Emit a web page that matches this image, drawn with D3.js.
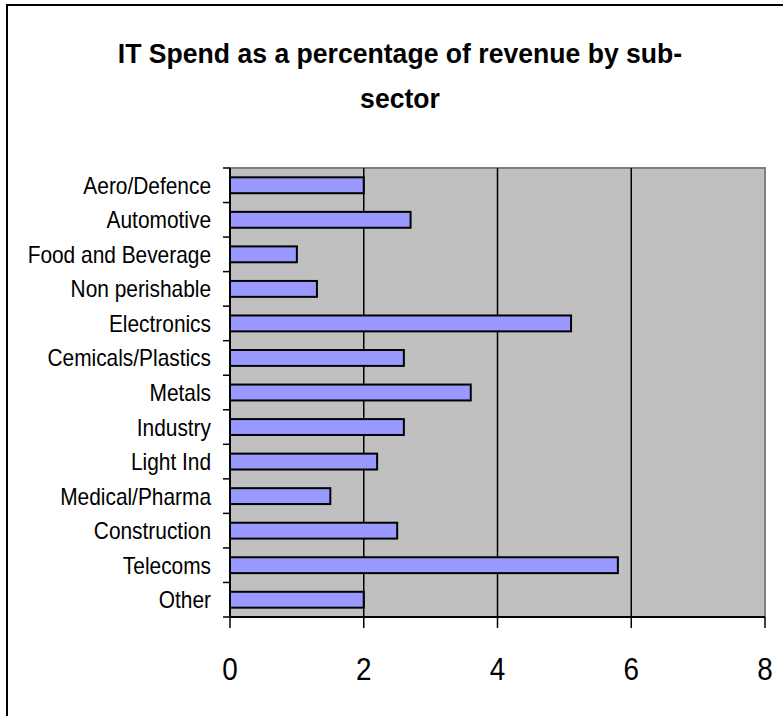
<!DOCTYPE html>
<html>
<head>
<meta charset="utf-8">
<script src="https://cdn.jsdelivr.net/npm/d3@7"></script>
<style>
  body { margin: 0; background: #fff; }
  text { font-family: "Liberation Sans", Arial, sans-serif; fill: #000; }
</style>
</head>
<body>
<svg width="783" height="716"></svg>
<script>
// chart data
var categories = ["Aero/Defence", "Automotive", "Food and Beverage", "Non perishable",
  "Electronics", "Cemicals/Plastics", "Metals", "Industry", "Light Ind",
  "Medical/Pharma", "Construction", "Telecoms", "Other"];
var values = [2.0, 2.7, 1.0, 1.3, 5.1, 2.6, 3.6, 2.6, 2.2, 1.5, 2.5, 5.8, 2.0];
var xTicks = [0, 2, 4, 6, 8];
var titleLines = ["IT Spend as a percentage of revenue by sub-", "sector"];

var svg = d3.select("svg"),
    plot = {left: 230, right: 765, top: 168, bottom: 617};

var x = d3.scaleLinear().domain([0, 8]).range([plot.left, plot.right]);
var y = d3.scaleBand().domain(categories).range([plot.top, plot.bottom])
    .paddingInner(0.54).paddingOuter(0.27);

var data = categories.map(function(c, i) { return {name: c, val: values[i]}; });

// outer chart border (runs off the right and bottom edges)
svg.append("rect")
    .attr("x", 7).attr("y", 5)
    .attr("width", 820).attr("height", 760)
    .attr("fill", "none").attr("stroke", "#000").attr("stroke-width", 2);

// title
svg.selectAll(".title")
  .data(titleLines)
  .enter().append("text")
    .attr("class", "title")
    .attr("transform", function(d, i) { return "translate(400," + (63 + i * 45) + ") scale(0.95,1)"; })
    .attr("text-anchor", "middle")
    .style("font-size", "28px")
    .style("font-weight", "bold")
    .text(function(d) { return d; });

// plot area
svg.append("rect")
    .attr("x", plot.left).attr("y", plot.top)
    .attr("width", plot.right - plot.left).attr("height", plot.bottom - plot.top)
    .attr("fill", "#c0c0c0").attr("stroke", "#808080").attr("stroke-width", 2);

// gridlines + x ticks
svg.append("g")
    .selectAll("line")
    .data(xTicks)
    .enter().append("line")
      .attr("x1", function(d) { return x(d); })
      .attr("x2", function(d) { return x(d); })
      .attr("y1", function(d) { return (d === 0 || d === 8) ? plot.bottom : plot.top; })
      .attr("y2", plot.bottom + 11)
      .attr("stroke", "#000").attr("stroke-width", 1.5);

// bars
svg.append("g")
    .selectAll("rect")
    .data(data)
    .enter().append("rect")
      .attr("x", x(0))
      .attr("y", function(d) { return y(d.name); })
      .attr("width", function(d) { return x(d.val) - x(0); })
      .attr("height", y.bandwidth())
      .attr("fill", "#9999ff")
      .attr("stroke", "#000").attr("stroke-width", 2);

// axes lines
svg.append("line")
    .attr("x1", plot.left).attr("x2", plot.left)
    .attr("y1", plot.top).attr("y2", plot.bottom + 1)
    .attr("stroke", "#000").attr("stroke-width", 2);
svg.append("line")
    .attr("x1", plot.left - 1).attr("x2", plot.right)
    .attr("y1", plot.bottom).attr("y2", plot.bottom)
    .attr("stroke", "#000").attr("stroke-width", 2);

// y ticks on band boundaries
svg.append("g")
    .selectAll("line")
    .data(d3.range(categories.length + 1))
    .enter().append("line")
      .attr("x1", plot.left - 7).attr("x2", plot.left)
      .attr("y1", function(i) { return plot.top + i * y.step(); })
      .attr("y2", function(i) { return plot.top + i * y.step(); })
      .attr("stroke", "#000").attr("stroke-width", 1.5);

// category labels
svg.append("g")
    .selectAll("text")
    .data(categories)
    .enter().append("text")
      .attr("transform", function(d) {
        return "translate(211," + (y(d) + y.bandwidth() / 2 + 8.5) + ") scale(0.87,1)";
      })
      .attr("text-anchor", "end")
      .style("font-size", "24px")
      .text(function(d) { return d; });

// x tick labels
svg.append("g")
    .selectAll("text")
    .data(xTicks)
    .enter().append("text")
      .attr("transform", function(d) { return "translate(" + x(d) + ",680) scale(0.87,1)"; })
      .attr("text-anchor", "middle")
      .style("font-size", "32px")
      .text(function(d) { return d; });
</script>
</body>
</html>
